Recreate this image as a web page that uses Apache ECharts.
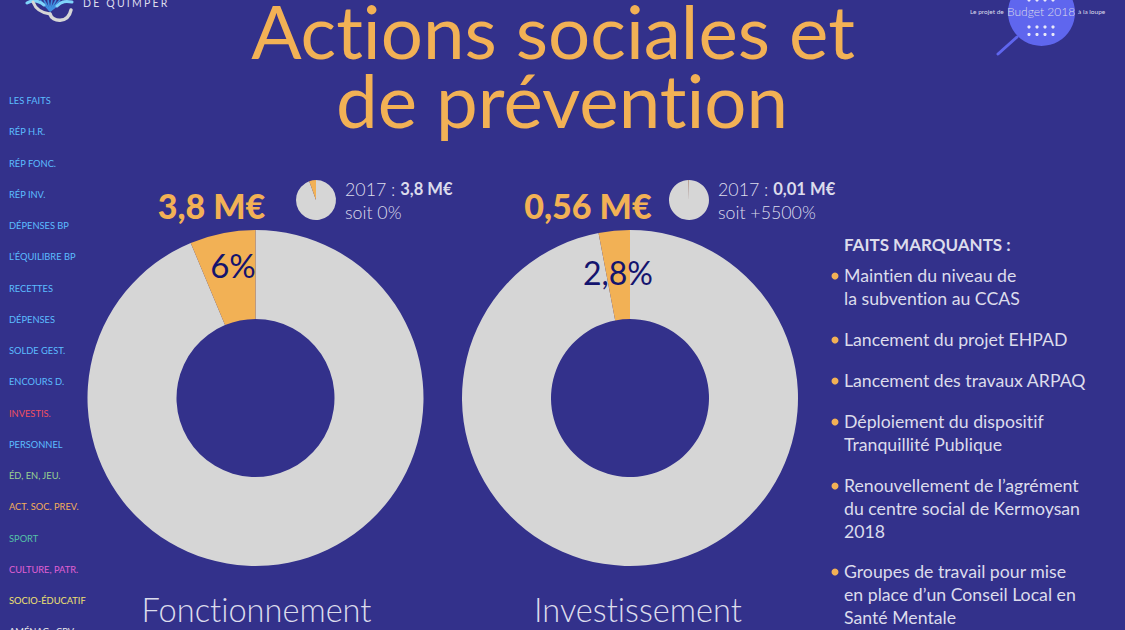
<!DOCTYPE html>
<html>
<head>
<meta charset="utf-8">
<style>
html,body{margin:0;padding:0;background:#33318b}
#main{width:1125px;height:630px}
#main text{font-variant-ligatures:none !important}
</style>
<script src="https://cdn.jsdelivr.net/npm/echarts@6/dist/echarts.min.js"></script>
</head>
<body>
<div id="main"></div>
<script>
var FONT = 'Lato';
var BG = '#33318b', ORANGE = '#f2b155', GREY = '#d6d6d6', TEXT = '#dcdcec', NAVY = '#14146e';

var fonctValues = [93.7, 6.3];
var investValues = [97, 3];
var fonct2017 = [94.5, 5.5];
var invest2017 = [99.7, 0.3];
var pieLabels = ['6%', '2,8%'];
var pieTitles = ['Fonctionnement', 'Investissement'];
var navLabels = ['LES FAITS', 'RÉP H.R.', 'RÉP FONC.', 'RÉP INV.', 'DÉPENSES BP', 'L’ÉQUILIBRE BP', 'RECETTES', 'DÉPENSES', 'SOLDE GEST.', 'ENCOURS D.', 'INVESTIS.', 'PERSONNEL', 'ÉD, EN, JEU.', 'ACT. SOC. PREV.', 'SPORT', 'CULTURE, PATR.', 'SOCIO-ÉDUCATIF', 'AMÉNAG., CPV.'];
var navColors = ['#5cbcff', '#5cbcff', '#5cbcff', '#5cbcff', '#5cbcff', '#5cbcff', '#5cbcff', '#5cbcff', '#5cbcff', '#5cbcff', '#f0505f', '#5cbcff', '#98d090', '#f2ad5a', '#55c0a8', '#e060d4', '#f0e070', '#e8e8e8'];
var faits = [
  ['Maintien du niveau de', 'la subvention au CCAS'],
  ['Lancement du projet EHPAD'],
  ['Lancement des travaux ARPAQ'],
  ['Déploiement du dispositif', 'Tranquillité Publique'],
  ['Renouvellement de l’agrément', 'du centre social de Kermoysan', '2018'],
  ['Groupes de travail pour mise', 'en place d’un Conseil Local en', 'Santé Mentale']
];
var faitsY = [275, 339, 380, 421, 485, 571];

function txt(x, y, text, size, fill, extra) {
  var style = { text: text, x: x, y: y, font: (extra && extra.weight || 300) + ' ' + size + 'px ' + FONT, fill: fill, align: extra && extra.align || 'left', verticalAlign: 'middle' };
  if (extra && extra.rich) style.rich = extra.rich;
  return { type: 'text', z: 10, style: style };
}

function donut(values, cx, r) {
  return {
    type: 'pie', silent: true, center: cx, radius: r, startAngle: 90, clockwise: true,
    label: { show: false }, labelLine: { show: false }, animation: false,
    itemStyle: { borderWidth: 0 },
    data: [
      { value: values[0], itemStyle: { color: GREY } },
      { value: values[1], itemStyle: { color: ORANGE } }
    ]
  };
}

function curve(x1, y1, cx1, cy1, cx2, cy2, x2, y2, color, w) {
  return { type: 'bezierCurve', z: 5, shape: { x1: x1, y1: y1, cpx1: cx1, cpy1: cy1, cpx2: cx2, cpy2: cy2, x2: x2, y2: y2 }, style: { stroke: color, fill: null, lineWidth: w, lineCap: 'round' } };
}

var gfx = [];
// titre
gfx.push(txt(553, 30, 'Actions sociales et', 74.5, ORANGE, { align: 'center', weight: 400 }));
gfx.push(txt(562, 99, 'de prévention', 74.5, ORANGE, { align: 'center', weight: 400 }));
// menu
navLabels.forEach(function (n, i) {
  gfx.push(txt(9, 100.5 + i * 31.25, n, 9.3, navColors[i], { weight: 400 }));
});
// montants
gfx.push(txt(211.5, 205, '3,8 M€', 34, ORANGE, { align: 'center', weight: 900 }));
gfx.push(txt(588, 205, '0,56 M€', 34, ORANGE, { align: 'center', weight: 900 }));
var boldRich = { b: { font: '700 16.6px ' + FONT, fill: TEXT } };
gfx.push(txt(345, 189, '2017 : {b|3,8 M€}', 17.8, TEXT, { rich: boldRich }));
gfx.push(txt(345, 212, 'soit 0%', 17.8, TEXT));
gfx.push(txt(718, 189, '2017 : {b|0,01 M€}', 17.8, TEXT, { rich: boldRich }));
gfx.push(txt(718, 212, 'soit +5500%', 17.8, TEXT));
// valeurs dans les donuts
gfx.push(txt(233, 265, pieLabels[0], 33, NAVY, { align: 'center', weight: 400 }));
gfx.push(txt(618, 272, pieLabels[1], 32, NAVY, { align: 'center', weight: 400 }));
gfx.push(txt(256.5, 609, pieTitles[0], 32.6, TEXT, { align: 'center' }));
gfx.push(txt(638, 609, pieTitles[1], 32.6, TEXT, { align: 'center' }));
// faits marquants
gfx.push(txt(844, 244, 'FAITS MARQUANTS :', 17, TEXT, { weight: 700 }));
faits.forEach(function (lines, i) {
  gfx.push({ type: 'circle', z: 10, shape: { cx: 835, cy: faitsY[i] + 1, r: 3.5 }, style: { fill: ORANGE } });
  lines.forEach(function (l, j) {
    gfx.push(txt(844, faitsY[i] + j * 23, l, 17.7, TEXT, { weight: 400 }));
  });
});
// loupe budget
gfx.push({ type: 'circle', z: 5, shape: { cx: 1041.5, cy: 12.5, r: 33.5 }, style: { fill: '#5f66ee' } });
gfx.push({ type: 'line', z: 5, shape: { x1: 1017, y1: 37, x2: 998, y2: 54 }, style: { stroke: '#5f66ee', lineWidth: 3, lineCap: 'round' } });
[1029, 1037, 1045, 1053].forEach(function (x) {
  [0, 27, 34.5].forEach(function (y) {
    gfx.push({ type: 'circle', z: 6, shape: { cx: x, cy: y, r: 1.6 }, style: { fill: '#e8e8f8' } });
  });
});
gfx.push(txt(970, 11, 'Le projet de', 6.5, TEXT, { weight: 400 }));
gfx.push(txt(1007, 11, 'Budget 2018', 12, TEXT));
gfx.push(txt(1078, 11, 'à la loupe', 6.5, TEXT, { weight: 400 }));
// logo
gfx.push(txt(83, 3, 'DE QUIMPER', 10.5, TEXT, { weight: 400 }));
[[40, 0], [44, 0], [48, 0], [52, 0], [56, 0], [60, 0], [63, 1]].forEach(function (p) {
  gfx.push({ type: 'line', z: 4, shape: { x1: 50, y1: 11, x2: p[0], y2: p[1] }, style: { stroke: '#3f8fe0', lineWidth: 1.6 } });
});
gfx.push(curve(27, 3, 32, 0, 38, 0, 44, 5, '#7fd4fa', 3));
gfx.push(curve(57, 6, 62, 1, 66, 1, 72, 2, '#7fd4fa', 3));
gfx.push(curve(33, 2, 36, 10, 42, 13, 50, 14, '#d6d6d6', 3));
gfx.push(curve(50, 14, 52, 22, 68, 24, 71, 10, '#d6d6d6', 3.5));

var chart = echarts.init(document.getElementById('main'), null, { renderer: 'svg' });
chart.setOption({
  backgroundColor: BG,
  animation: false,
  series: [
    donut(fonctValues, [255.5, 398], [79, 168]),
    donut(investValues, [630, 398], [79, 168]),
    donut(fonct2017, [316, 200], [0, 20]),
    donut(invest2017, [689, 200], [0, 20])
  ],
  graphic: { elements: gfx }
});

// espacement du sous-titre du logo
document.querySelectorAll('#main text').forEach(function (t) {
  if (t.textContent === 'DE QUIMPER') t.style.letterSpacing = '2.2px';
});
</script>
</body>
</html>
